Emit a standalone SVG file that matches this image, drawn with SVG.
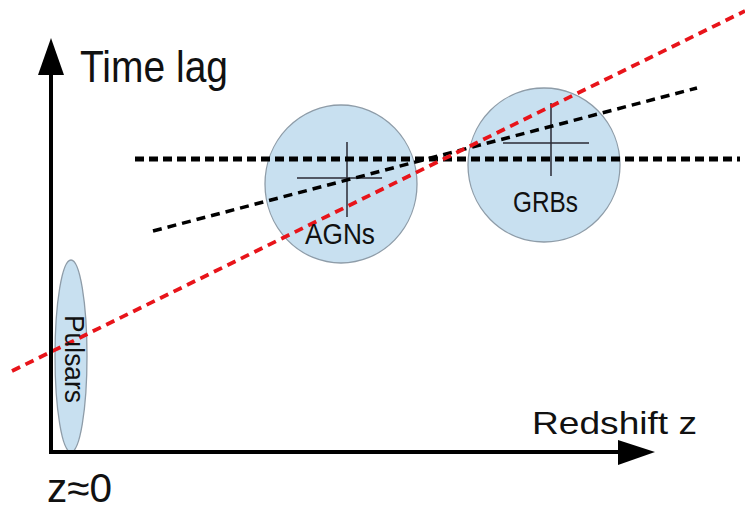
<svg xmlns="http://www.w3.org/2000/svg" width="745" height="509" viewBox="0 0 745 509">
<defs>
<style>
.blob{fill:#c8e0f0;stroke:#8e9ca8;stroke-width:1.3}
.cross{stroke:#2a2a35;stroke-width:1.5;fill:none}
.lbl{font-family:"Liberation Sans","DejaVu Sans",sans-serif;fill:#111}
.axis{stroke:#000;stroke-width:4;fill:none}
.dash{fill:none}
</style>
</defs>
<g id="agns">
<ellipse class="blob" cx="341" cy="184" rx="76" ry="79"/>
<line class="cross" x1="347" y1="142" x2="347" y2="217"/>
<line class="cross" x1="297" y1="178" x2="382" y2="178"/>
</g>
<g id="grbs">
<ellipse class="blob" cx="544" cy="165" rx="76" ry="77"/>
<line class="cross" x1="551" y1="103" x2="551" y2="176"/>
<line class="cross" x1="503" y1="143" x2="589" y2="143"/>
</g>
<g id="pulsars">
<ellipse class="blob" cx="71" cy="356" rx="16" ry="96"/>
</g>
<g id="connectors">
<line class="dash" x1="135" y1="159" x2="740" y2="159" stroke="#000" stroke-width="5" stroke-dasharray="9 5"/>
<line class="dash" x1="153" y1="231" x2="697" y2="88" stroke="#000" stroke-width="3.5" stroke-dasharray="9 6"/>
<line class="dash" x1="12" y1="371" x2="745" y2="11" stroke="#e8141a" stroke-width="3.8" stroke-dasharray="9 6"/>
</g>
<g id="axes">
<line class="axis" x1="51" y1="454" x2="51" y2="70"/>
<polygon points="51,38 38,75 64,75" fill="#000"/>
<line class="axis" x1="49" y1="452" x2="622" y2="452"/>
<polygon points="655,452 618,440 618,465" fill="#000"/>
</g>
<g id="labels">
<text class="lbl" x="80" y="82" font-size="44" textLength="148" lengthAdjust="spacingAndGlyphs">Time lag</text>
<text class="lbl" x="305" y="244" font-size="30" textLength="70" lengthAdjust="spacingAndGlyphs">AGNs</text>
<text class="lbl" x="513" y="212" font-size="30" textLength="65" lengthAdjust="spacingAndGlyphs">GRBs</text>
<text class="lbl" x="532" y="434" font-size="32" textLength="165" lengthAdjust="spacingAndGlyphs">Redshift  z</text>
<text class="lbl" x="47" y="502" font-size="40" textLength="65" lengthAdjust="spacingAndGlyphs">z≈0</text>
<text class="lbl" transform="translate(65,315) rotate(90)" font-size="27" textLength="88" lengthAdjust="spacingAndGlyphs">Pulsars</text>
</g>
</svg>
